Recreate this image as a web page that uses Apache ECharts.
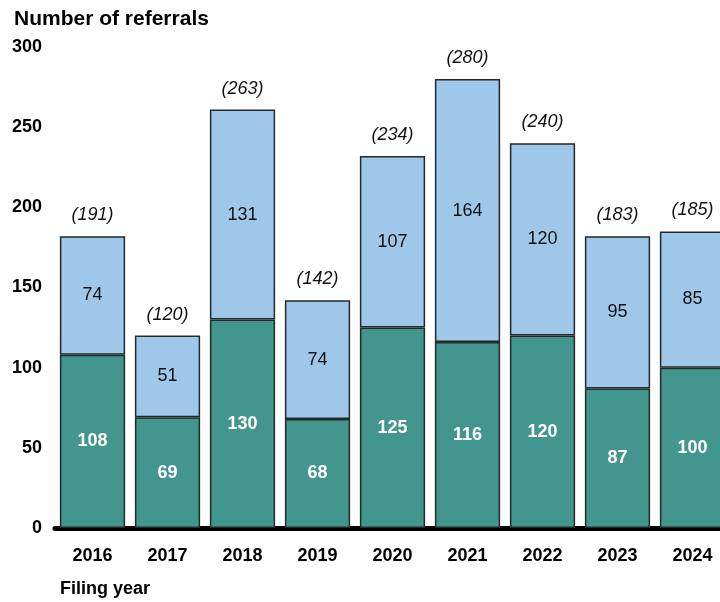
<!DOCTYPE html>
<html>
<head>
<meta charset="utf-8">
<script src="https://cdn.jsdelivr.net/npm/echarts@6/dist/echarts.min.js"></script>
<style>
  html, body { margin: 0; padding: 0; background: #fff; overflow: hidden; }
  #chart { width: 720px; height: 602px; }
</style>
</head>
<body>
<div id="chart"></div>
<script>
// Referrals by filing year
const years = ['2016', '2017', '2018', '2019', '2020', '2021', '2022', '2023', '2024'];
const lowerSegment = [108, 69, 130, 68, 125, 116, 120, 87, 100];
const upperSegment = [74, 51, 131, 74, 107, 164, 120, 95, 85];
const totals = [191, 120, 263, 142, 234, 280, 240, 183, 185];
const yTicks = [0, 50, 100, 150, 200, 250, 300];

const FONT = '"Liberation Sans", Arial, sans-serif';
const GREEN = '#43968d';
const BLUE = '#9ec7ea';
const EDGE = '#222a2a';

const chart = echarts.init(document.getElementById('chart'), null, { renderer: 'canvas' });

chart.setOption({
  animation: false,
  textStyle: { fontFamily: FONT },
  title: {
    text: 'Number of referrals',
    left: 9,
    top: 4,
    textStyle: { fontFamily: FONT, fontSize: 21, fontWeight: 'bold', color: '#000' }
  },
  // the plot runs on past the right edge of the page, clipping the last bar
  grid: {
    left: 55, width: 675, top: 47, bottom: 74,
    containLabel: false, outerBoundsMode: 'none'
  },
  xAxis: {
    type: 'category',
    data: years,
    name: 'Filing year',
    nameLocation: 'start',
    nameGap: 0,
    nameTextStyle: {
      fontFamily: FONT, fontSize: 18, fontWeight: 'bold', color: '#000',
      align: 'left', verticalAlign: 'top', padding: [52, 0, 0, 5]
    },
    axisLine: { show: true, lineStyle: { color: '#000', width: 5 } },
    axisTick: { show: false },
    axisLabel: {
      fontFamily: FONT, fontSize: 18, fontWeight: 'bold', color: '#000', margin: 19
    }
  },
  yAxis: {
    type: 'value',
    min: yTicks[0],
    max: yTicks[yTicks.length - 1],
    interval: 50,
    splitLine: { show: false },
    axisLine: { show: false },
    axisTick: { show: false },
    axisLabel: {
      fontFamily: FONT, fontSize: 18, fontWeight: 'bold', color: '#000', margin: 13
    }
  },
  series: [
    {
      name: 'lower',
      type: 'bar',
      stack: 'referrals',
      data: lowerSegment,
      barCategoryGap: '13%',
      itemStyle: { color: GREEN, borderColor: EDGE, borderWidth: 1.5 },
      label: {
        show: true,
        position: 'inside',
        color: '#fff',
        fontFamily: FONT,
        fontSize: 18,
        fontWeight: 'bold'
      }
    },
    {
      name: 'upper',
      type: 'bar',
      stack: 'referrals',
      data: upperSegment,
      barCategoryGap: '13%',
      itemStyle: { color: BLUE, borderColor: EDGE, borderWidth: 1.5 },
      label: {
        show: true,
        position: 'inside',
        color: '#111',
        fontFamily: FONT,
        fontSize: 18
      }
    },
    {
      // invisible zero-height cap carrying the overall totals
      name: 'total',
      type: 'bar',
      stack: 'referrals',
      data: years.map(() => 0),
      barCategoryGap: '13%',
      itemStyle: { color: 'transparent' },
      label: {
        show: true,
        position: 'top',
        distance: 12,
        color: '#111',
        fontFamily: FONT,
        fontSize: 18,
        fontStyle: 'italic',
        formatter: p => '(' + totals[p.dataIndex] + ')'
      }
    }
  ]
});
</script>
</body>
</html>
